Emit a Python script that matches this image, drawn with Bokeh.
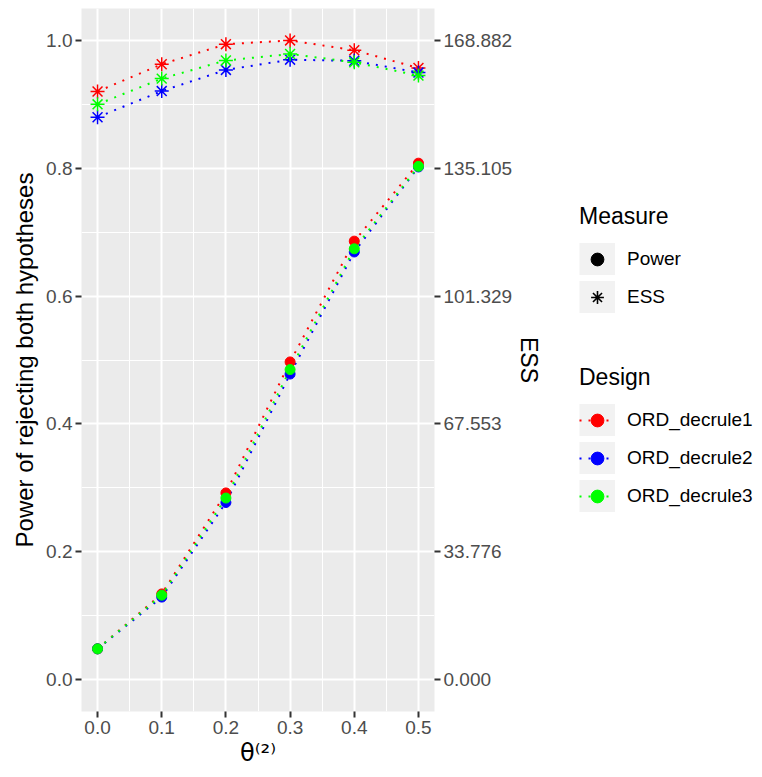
import numpy as np
from bokeh.plotting import figure
from bokeh.models import (Range1d, LinearAxis, FixedTicker, CustomJSTickFormatter,
                          ColumnDataSource, Legend, LegendItem)
from bokeh.layouts import row
from bokeh.embed import file_html
from bokeh.resources import INLINE

# ---------------- data ----------------
theta = [0.0, 0.1, 0.2, 0.3, 0.4, 0.5]
designs = ["ORD_decrule1", "ORD_decrule2", "ORD_decrule3"]
design_colors = ["#FF0000", "#0000FF", "#00FF00"]
measures = ["Power", "ESS"]

power_decrule1 = [0.048, 0.134, 0.292, 0.497, 0.686, 0.808]
power_decrule2 = [0.048, 0.129, 0.277, 0.478, 0.669, 0.802]
power_decrule3 = [0.048, 0.132, 0.284, 0.485, 0.674, 0.803]

ess_decrule1 = [155.4, 162.6, 167.9, 168.882, 166.3, 161.6]
ess_decrule2 = [148.6, 155.5, 161.1, 163.8, 163.5, 160.4]
ess_decrule3 = [152.0, 158.8, 163.6, 165.3, 163.1, 159.6]

ess_max = 168.882

x_ticks = [0.0, 0.1, 0.2, 0.3, 0.4, 0.5]
x_tick_labels = ["0.0", "0.1", "0.2", "0.3", "0.4", "0.5"]
power_ticks = [0.0, 0.2, 0.4, 0.6, 0.8, 1.0]
power_tick_labels = ["0.0", "0.2", "0.4", "0.6", "0.8", "1.0"]
ess_tick_labels = ["0.000", "33.776", "67.553", "101.329", "135.105", "168.882"]

power_series = [power_decrule1, power_decrule2, power_decrule3]
ess_series = [ess_decrule1, ess_decrule2, ess_decrule3]

# ---------------- styles ----------------
FONT = "Liberation Sans"
TICK_SIZE = "19px"
TITLE_SIZE = "23px"
PANEL = "#EBEBEB"
KEY_BG = "#F2F2F2"
DOT = "2 7"
H = 769
B_TOP, B_BOTTOM = 8, 57


def labels_formatter(labels):
    return CustomJSTickFormatter(args=dict(labels=labels), code="return labels[index];")


def mids(v):
    return [(a + b) / 2 for a, b in zip(v[:-1], v[1:])]


# ---------------- main figure ----------------
x_pad = 0.05 * (x_ticks[-1] - x_ticks[0])
y_pad = 0.05 * (power_ticks[-1] - power_ticks[0])
p = figure(width=568, height=H,
           x_range=Range1d(x_ticks[0] - x_pad, x_ticks[-1] + x_pad),
           y_range=Range1d(power_ticks[0] - y_pad, power_ticks[-1] + y_pad),
           output_backend="svg", toolbar_location=None,
           min_border_left=81, min_border_right=134,
           min_border_top=B_TOP, min_border_bottom=B_BOTTOM)
p.extra_y_ranges = {"ess": Range1d(-0.05 * ess_max, 1.05 * ess_max)}
p.background_fill_color = PANEL
p.border_fill_color = "white"
p.outline_line_color = None

xt = FixedTicker(ticks=x_ticks, minor_ticks=mids(x_ticks))
yt = FixedTicker(ticks=power_ticks, minor_ticks=mids(power_ticks))

p.xaxis.ticker = xt
p.yaxis.ticker = yt
p.xaxis.formatter = labels_formatter(x_tick_labels)
p.yaxis.formatter = labels_formatter(power_tick_labels)
p.xaxis.axis_label = "θ⁽²⁾"
p.yaxis.axis_label = "Power of rejecting both hypotheses"

p.xgrid.ticker = xt
p.ygrid.ticker = yt
for g in (p.xgrid[0], p.ygrid[0]):
    g.grid_line_color = "white"
    g.grid_line_width = 2
    g.minor_grid_line_color = "white"
    g.minor_grid_line_width = 1

ax_r = LinearAxis(y_range_name="ess",
                  ticker=FixedTicker(ticks=[ess_max * i / (len(ess_tick_labels) - 1)
                                            for i in range(len(ess_tick_labels))]),
                  formatter=labels_formatter(ess_tick_labels),
                  axis_label="ESS")
p.add_layout(ax_r, "right")

for ax in p.xaxis + p.yaxis:
    ax.axis_line_color = None
    ax.major_tick_line_color = "#333333"
    ax.major_tick_line_width = 2
    ax.major_tick_out = 6
    ax.major_tick_in = 0
    ax.minor_tick_line_color = None
    ax.minor_tick_out = 0
    ax.minor_tick_in = 0
    ax.major_label_text_font = FONT
    ax.major_label_text_font_size = TICK_SIZE
    ax.major_label_text_color = "#4D4D4D"
    ax.major_label_standoff = 3
    ax.axis_label_text_font = FONT
    ax.axis_label_text_font_size = TITLE_SIZE
    ax.axis_label_text_font_style = "normal"
    ax.axis_label_text_color = "black"
    ax.axis_label_standoff = 5
p.yaxis[0].axis_label_text_font_size = "24px"
ax_r.axis_label_standoff = 1
p.xaxis.axis_label_standoff = 2
p.xaxis.axis_label_text_font = "DejaVu Sans"
p.xaxis.axis_label_text_font_size = "24px"

for pw, es, c in zip(power_series, ess_series, design_colors):
    p.line(theta, pw, line_color=c, line_width=2, line_dash=DOT)
    p.line(theta, es, line_color=c, line_width=2, line_dash=DOT, y_range_name="ess")
for pw, es, c in zip(power_series, ess_series, design_colors):
    p.scatter(theta, pw, marker="circle", size=10, fill_color=c, line_color=c)
    p.scatter(theta, es, marker="asterisk", size=14, line_color=c, line_width=1.5,
              y_range_name="ess")

# ---------------- legend panel ----------------
lg = figure(width=186, height=H, x_range=Range1d(0, 1), y_range=Range1d(0, 1),
            output_backend="svg", toolbar_location=None,
            x_axis_location=None, y_axis_location=None,
            min_border_left=0, min_border_right=0,
            min_border_top=B_TOP, min_border_bottom=B_BOTTOM)
lg.outline_line_color = None
lg.grid.visible = False
lg.background_fill_color = "white"
lg.border_fill_color = "white"

# legend-only renderers: a single NaN row, so nothing is drawn in the plot area
blank = ColumnDataSource(data=dict(x=np.array([np.nan]), y=np.array([np.nan])))
bg = lg.line("x", "y", source=blank, line_color=KEY_BG, line_width=40, line_cap="butt")
m_pow = lg.scatter("x", "y", source=blank, marker="circle", fill_color="black", line_color="black")
m_ess = lg.scatter("x", "y", source=blank, marker="asterisk", line_color="black", line_width=1.6)

measure_items = [LegendItem(label=measures[0], renderers=[bg, m_pow]),
                 LegendItem(label=measures[1], renderers=[bg, m_ess])]
design_items = []
for d, c in zip(designs, design_colors):
    ln = lg.line("x", "y", source=blank, line_color=c, line_width=2, line_dash=DOT)
    pt = lg.scatter("x", "y", source=blank, marker="circle", fill_color=c, line_color=c)
    design_items.append(LegendItem(label=d, renderers=[bg, ln, pt]))


def make_legend(title, items, loc):
    return Legend(title=title, items=items, location=loc,
                  glyph_width=36, glyph_height=32, label_standoff=12, spacing=6,
                  padding=0, margin=0, border_line_color=None, background_fill_alpha=0,
                  title_text_font=FONT, title_text_font_size=TITLE_SIZE,
                  title_text_font_style="normal", title_text_color="black",
                  title_standoff=13,
                  label_text_font=FONT, label_text_font_size=TICK_SIZE,
                  label_text_color="black", label_height=32)


frame_bottom = H - B_BOTTOM
lg.add_layout(make_legend("Measure", measure_items, (11, frame_bottom - 314)))
lg.add_layout(make_legend("Design", design_items, (11, frame_bottom - 513)))

layout = row(p, lg)
open("out.html", "w").write(file_html(layout, INLINE))
